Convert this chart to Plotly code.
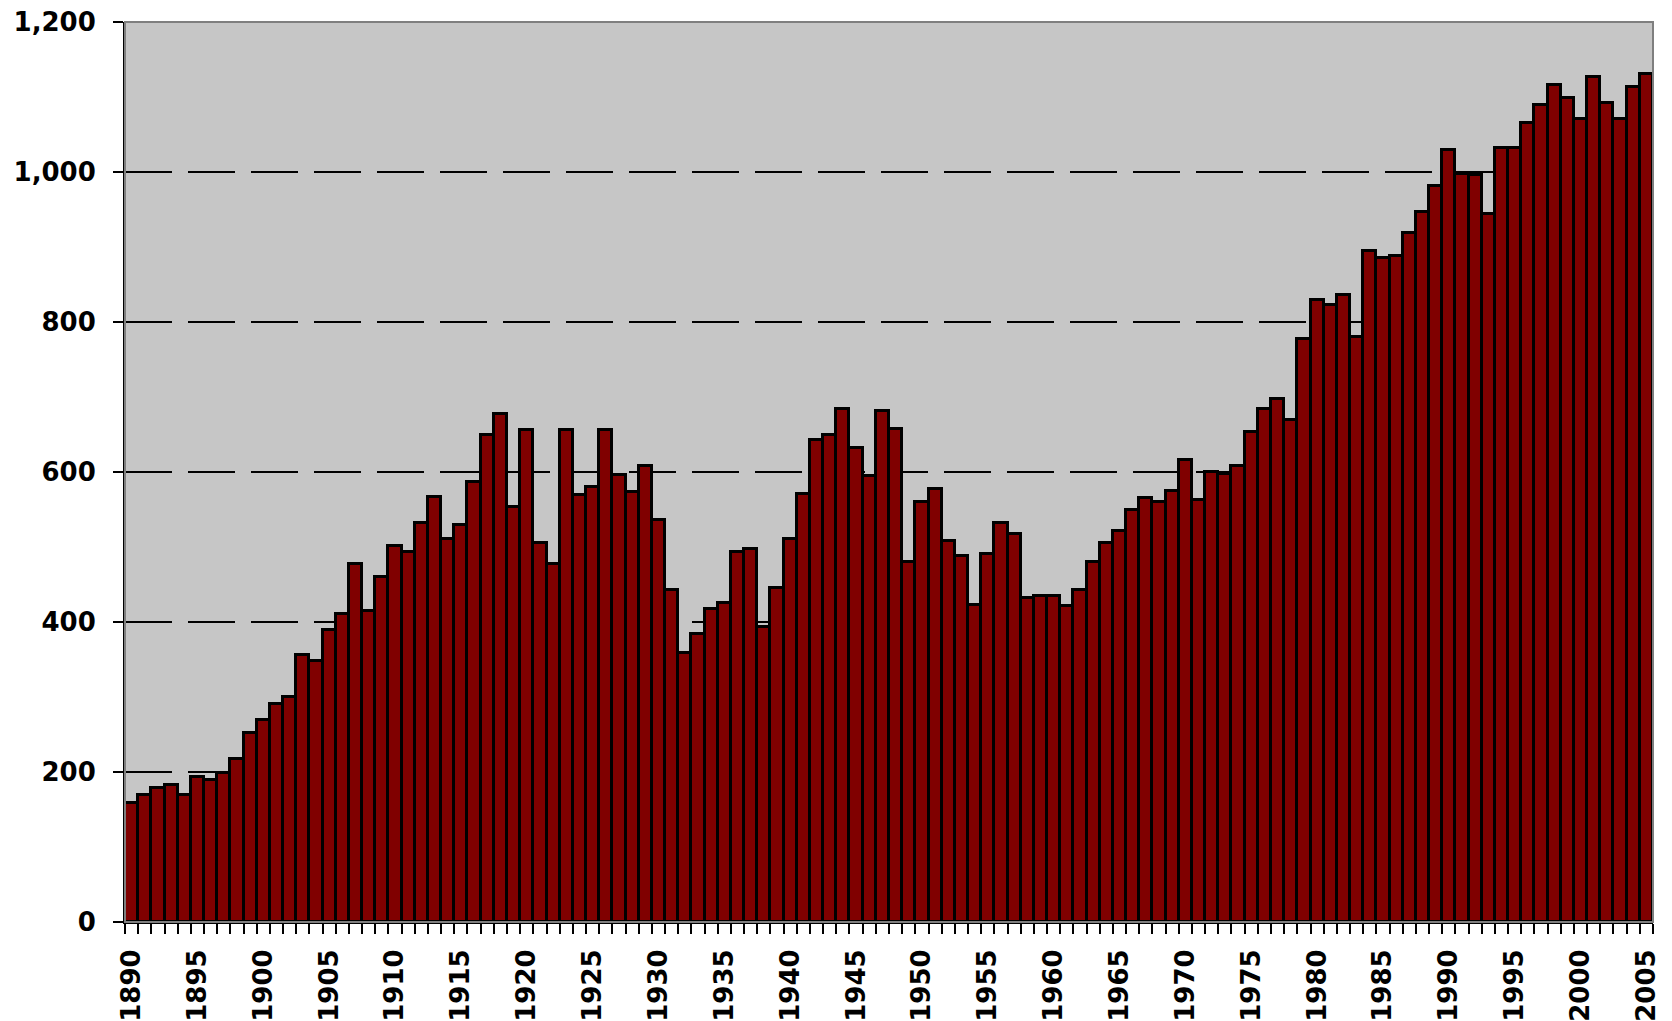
import plotly.graph_objects as go

years = list(range(1890, 2006))
values = [
    159, 169, 179, 183, 169, 193, 190, 199, 218, 252,   # 1890-1899
    270, 291, 300, 356, 348, 390, 411, 477, 415, 460,   # 1900-1909
    501, 494, 532, 567, 511, 529, 587, 649, 677, 553,   # 1910-1919
    656, 505, 477, 656, 570, 580, 656, 596, 573, 608,   # 1920-1929
    536, 443, 359, 384, 418, 425, 494, 497, 394, 446,   # 1930-1939
    511, 571, 643, 650, 684, 632, 595, 681, 657, 480,   # 1940-1949
    560, 577, 508, 488, 423, 491, 532, 518, 432, 435,   # 1950-1959
    435, 422, 443, 480, 506, 522, 550, 566, 560, 575,   # 1960-1969
    616, 563, 600, 597, 608, 653, 684, 698, 670, 778,   # 1970-1979
    829, 823, 836, 780, 895, 885, 888, 919, 947, 981,   # 1980-1989
    1029, 998, 996, 944, 1032, 1032, 1065, 1089, 1116, 1099,  # 1990-1999
    1071, 1127, 1092, 1071, 1113, 1131,                 # 2000-2005
]
x_tick_years = list(range(1890, 2006, 5))
x_tick_labels = [str(y) for y in x_tick_years]
y_tick_vals = [0, 200, 400, 600, 800, 1000, 1200]
y_tick_labels = ["0", "200", "400", "600", "800", "1,000", "1,200"]

font_family = "DejaVu Sans"

fig = go.Figure(
    go.Bar(
        x=years,
        y=values,
        width=1,
        marker=dict(color="#800000", line=dict(color="black", width=3)),
        hoverinfo="x+y",
    )
)

# the page body has an 8px margin, so the figure is sized to fit the window
fig.update_layout(
    width=1664,
    height=1013,
    margin=dict(l=117, r=19, t=14, b=99),
    paper_bgcolor="white",
    plot_bgcolor="#c6c6c6",
    bargap=0,
    showlegend=False,
    shapes=[
        dict(type="rect", xref="paper", yref="paper", x0=0, x1=1, y0=0, y1=1,
             line=dict(color="#7f7f7f", width=2), layer="above"),
    ],
)

fig.update_xaxes(
    range=[1889.5, 2005.5],
    automargin=False,
    tickmode="array",
    tickvals=x_tick_years,
    ticktext=x_tick_labels,
    tickangle=-90,
    ticks="outside",
    ticklen=0,
    tickcolor="rgba(0,0,0,0)",
    ticklabelstandoff=15,
    ticklabeloverflow="allow",
    tickfont=dict(family=font_family, size=26, color="black", weight="bold"),
    minor=dict(tick0=1889.5, dtick=1, ticks="outside", ticklen=10,
               tickcolor="black", tickwidth=2, showgrid=False),
    showline=True,
    linecolor="black",
    linewidth=2,
    showgrid=False,
    zeroline=False,
    fixedrange=True,
)

fig.update_yaxes(
    range=[0, 1200],
    automargin=False,
    tickmode="array",
    tickvals=y_tick_vals,
    ticktext=y_tick_labels,
    ticks="outside",
    ticklen=10,
    tickwidth=2,
    tickcolor="black",
    ticklabelstandoff=12,
    ticklabeloverflow="allow",
    tickfont=dict(family=font_family, size=26, color="black", weight="bold"),
    showline=True,
    linecolor="black",
    linewidth=2,
    showgrid=True,
    gridcolor="black",
    gridwidth=2,
    griddash="47px,16px",
    zeroline=False,
    fixedrange=True,
)

fig.write_html("out.html")
